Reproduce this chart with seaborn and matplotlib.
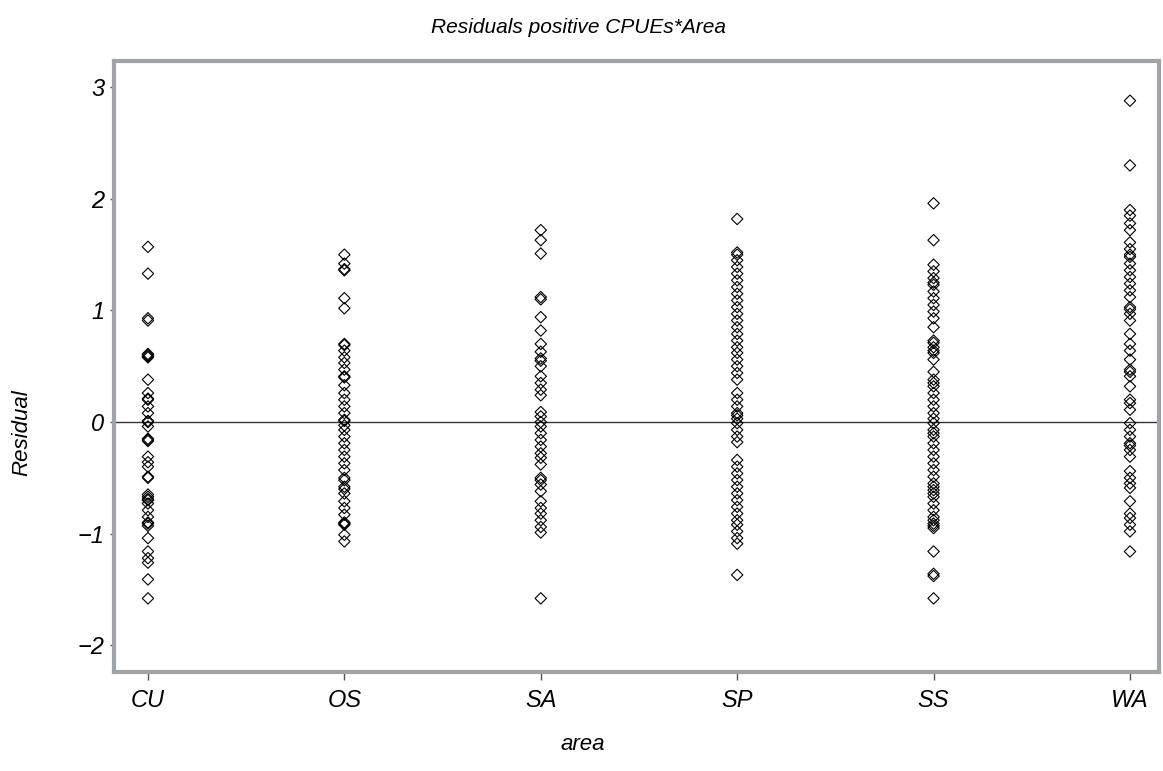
import matplotlib
matplotlib.use("Agg")

import matplotlib.pyplot as plt
import pandas as pd
import seaborn as sns

# residuals, one list per area
areas = ["CU", "OS", "SA", "SP", "SS", "WA"]

cu = [1.57, 1.33, 0.93, 0.91, 0.61, 0.60, 0.59, 0.58, 0.38, 0.26, 0.21, 0.20,
      0.14, 0.08, 0.01, 0.00, -0.04, -0.15, -0.16, -0.17, -0.31, -0.36, -0.40,
      -0.49, -0.50, -0.65, -0.67, -0.69, -0.70, -0.73, -0.79, -0.85, -0.90,
      -0.91, -0.93, -1.04, -1.16, -1.22, -1.26, -1.41, -1.58]
os_ = [1.50, 1.42, 1.37, 1.36, 1.11, 1.02, 0.70, 0.69, 0.64, 0.58, 0.53, 0.47,
       0.41, 0.40, 0.33, 0.26, 0.20, 0.14, 0.08, 0.02, 0.01, -0.03, -0.07,
       -0.13, -0.19, -0.25, -0.31, -0.37, -0.43, -0.50, -0.52, -0.58, -0.60,
       -0.64, -0.71, -0.77, -0.83, -0.90, -0.91, -0.92, -1.01, -1.07]
sa = [1.72, 1.63, 1.51, 1.12, 1.10, 0.94, 0.82, 0.70, 0.63, 0.57, 0.55, 0.50,
      0.41, 0.35, 0.29, 0.24, 0.09, 0.05, 0.00, -0.04, -0.10, -0.16, -0.22,
      -0.28, -0.32, -0.38, -0.50, -0.52, -0.56, -0.62, -0.71, -0.77, -0.82,
      -0.88, -0.94, -0.99, -1.58]
sp = [1.82, 1.52, 1.50, 1.45, 1.39, 1.33, 1.27, 1.21, 1.15, 1.09, 1.03, 0.97,
      0.91, 0.85, 0.79, 0.73, 0.67, 0.62, 0.56, 0.50, 0.44, 0.38, 0.26, 0.20,
      0.14, 0.08, 0.06, 0.03, -0.01, -0.07, -0.13, -0.18, -0.34, -0.40, -0.46,
      -0.52, -0.58, -0.64, -0.70, -0.76, -0.82, -0.88, -0.92, -0.98, -1.04,
      -1.09, -1.37]
ss = [1.96, 1.63, 1.41, 1.35, 1.29, 1.25, 1.23, 1.17, 1.11, 1.05, 0.99, 0.93,
      0.85, 0.73, 0.71, 0.67, 0.64, 0.62, 0.56, 0.45, 0.38, 0.35, 0.32, 0.26,
      0.20, 0.14, 0.08, 0.03, -0.01, -0.07, -0.10, -0.13, -0.19, -0.25, -0.31,
      -0.37, -0.43, -0.49, -0.55, -0.58, -0.61, -0.64, -0.67, -0.73, -0.79,
      -0.85, -0.88, -0.91, -0.93, -0.95, -1.16, -1.36, -1.38, -1.58]
wa = [2.88, 2.30, 1.90, 1.85, 1.78, 1.72, 1.61, 1.55, 1.50, 1.48, 1.42, 1.36,
      1.30, 1.24, 1.18, 1.12, 1.03, 1.01, 0.97, 0.91, 0.79, 0.70, 0.64, 0.56,
      0.47, 0.45, 0.41, 0.32, 0.20, 0.17, 0.11, -0.01, -0.07, -0.13, -0.19,
      -0.21, -0.25, -0.31, -0.44, -0.50, -0.55, -0.59, -0.71, -0.82, -0.86,
      -0.92, -0.98, -1.16]

yticks = [-2, -1, 0, 1, 2, 3]

residuals = [cu, os_, sa, sp, ss, wa]
df = pd.DataFrame({
    "area": [a for a, vals in zip(areas, residuals) for _ in vals],
    "resid": [v for vals in residuals for v in vals],
})

sns.set_style("white")
plt.rcParams["font.family"] = ["Liberation Sans", "DejaVu Sans"]
plt.rcParams["font.style"] = "italic"
plt.rcParams["text.color"] = "black"
plt.rcParams["xtick.labelcolor"] = "black"
plt.rcParams["ytick.labelcolor"] = "black"

frame = "#a0a4a8"

fig = plt.figure(figsize=(11.63, 7.71), dpi=100)
ax = fig.add_axes([0.098, 0.1284, 0.8986, 0.7931])

sns.stripplot(data=df, x="area", y="resid", order=areas, jitter=False,
              marker="D", size=5.8, color="white", edgecolor="black",
              linewidth=0.8, ax=ax, zorder=3)
for c in ax.collections:
    c.set_facecolor("none")

ax.axhline(0, color="#333333", lw=1.0, zorder=2)

ax.set_xlim(-0.173, 5.148)
ax.set_ylim(-2.24, 3.24)
ax.set_yticks(yticks)
ax.set_yticklabels([str(t).replace("-", "\u2212") for t in yticks])

for s in ax.spines.values():
    s.set_color(frame)
    s.set_linewidth(3.0)

ax.tick_params(axis="y", length=3, width=1, color="#555555", pad=4,
               labelsize=17, labelcolor="black", left=True)
ax.tick_params(axis="x", length=6, width=1, color="#555555", pad=6,
               labelsize=17, labelcolor="black", bottom=True)
for lab in ax.get_xticklabels() + ax.get_yticklabels():
    lab.set_fontstyle("italic")

ax.set_xlabel("")
ax.set_ylabel("")

fig.text(0.497, 0.964, "Residuals positive CPUEs*Area", ha="center",
         va="center", fontsize=15, style="italic", color="black")
fig.text(0.019, 1 - 433 / 771, "Residual", rotation=90, ha="center",
         va="center", fontsize=16, style="italic", color="black")
fig.text(0.501, 1 - 745 / 771, "area", ha="center", va="center",
         fontsize=16, style="italic", color="black")

fig.savefig("out.png", dpi=100)
